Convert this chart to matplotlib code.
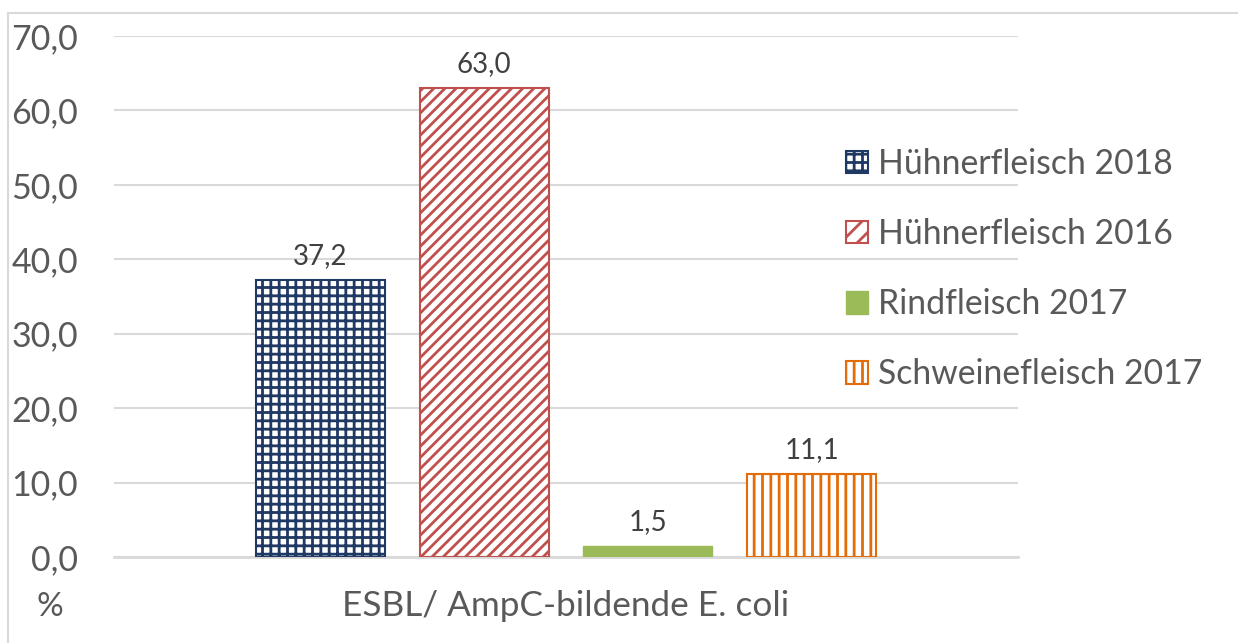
import matplotlib
matplotlib.use("Agg")
import matplotlib.pyplot as plt
from matplotlib.patches import Patch
from matplotlib.lines import Line2D

plt.rcParams['font.family'] = ['Lato', 'DejaVu Sans']
plt.rcParams['hatch.linewidth'] = 2.0

category = "ESBL/ AmpC-bildende E. coli"
series = ["Hühnerfleisch 2018", "Hühnerfleisch 2016", "Rindfleisch 2017", "Schweinefleisch 2017"]
values = [37.2, 63.0, 1.5, 11.1]
colors = ["#1F3864", "#C0504D", "#9BBB59", "#E36C09"]
hatches = ["++", "///", None, "||"]
legend_hatches = ["++", "//", None, "||"]
yticks = [0, 10, 20, 30, 40, 50, 60, 70]

fig = plt.figure(figsize=(12.38, 6.43), dpi=100)
ax = fig.add_axes([114/1238, 1-557/643, (1018-114)/1238, (557-36)/643])

pitch = 0.1814
width = 0.1427
handles = []
for i, (name, v, c, h, lh) in enumerate(zip(series, values, colors, hatches, legend_hatches)):
    x = (i - 1.5) * pitch
    if h is None:
        ax.bar(x, v, width, color=c, edgecolor=c, linewidth=1.0, zorder=3)
        handles.append(Patch(facecolor=c, edgecolor=c, label=name))
    else:
        ax.bar(x, v, width, facecolor="white", edgecolor=c, hatch=h, linewidth=1.5, zorder=3)
        handles.append(Patch(facecolor="white", edgecolor=c, hatch=lh, linewidth=1.5, label=name))
    ax.annotate(f"{v:.1f}".replace(".", ","), (x, v), xytext=(0, 8), textcoords="offset points",
                ha="center", va="bottom", fontsize=20, color="#404040")

ax.set_xlim(-0.5, 0.5)
ax.set_ylim(0, 70)
ax.set_yticks(yticks)
ax.set_yticklabels([f"{t:.1f}".replace(".", ",") for t in yticks], fontsize=24.5, color="#595959")
ax.set_xticks([0])
ax.set_xticklabels([category], fontsize=25.3, color="#595959")
ax.tick_params(axis="y", length=0, pad=26)
ax.tick_params(axis="x", length=0, pad=24)
ax.grid(axis="y", color="#D9D9D9", linewidth=1.5, zorder=0)
for s in ["top", "right", "left"]:
    ax.spines[s].set_visible(False)
ax.spines["bottom"].set_color("#D9D9D9")
ax.spines["bottom"].set_linewidth(2)
ax.set_axisbelow(True)

fig.text(37/1238, 1-607/643, "%", fontsize=24, color="#595959", ha="left", va="center")

fig.legend(handles=handles, loc="upper left", bbox_to_anchor=(829/1238, 1-131/643),
           frameon=False, fontsize=24.3, handlelength=0.65, handleheight=0.65,
           handletextpad=0.3, labelspacing=1.13, borderpad=0, labelcolor="#595959")

# outer chart border (top and left visible)
fig.add_artist(Line2D([8/1238, 1], [1-13/643, 1-13/643], color="#D9D9D9", linewidth=1.5))
fig.add_artist(Line2D([8/1238, 8/1238], [0, 1-13/643], color="#D9D9D9", linewidth=1.5))

fig.savefig("out.png", dpi=100)
